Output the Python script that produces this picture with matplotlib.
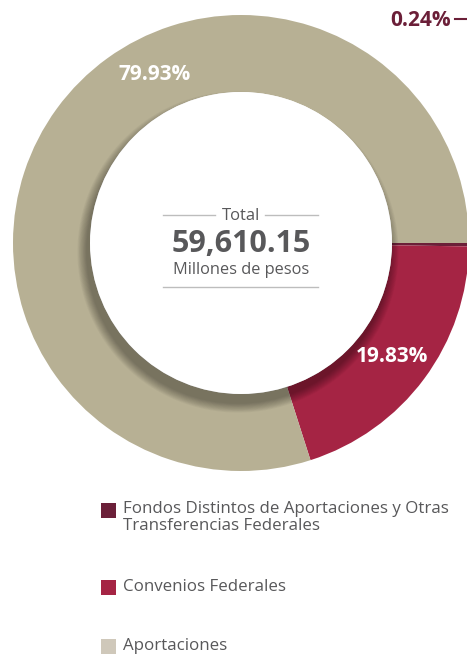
import matplotlib.pyplot as plt
from matplotlib.patches import Circle, Rectangle

plt.rcParams['font.family'] = ['Open Sans', 'DejaVu Sans']

# datos
categorias = ['Fondos Distintos de Aportaciones y Otras\nTransferencias Federales',
              'Convenios Federales',
              'Aportaciones']
porcentajes = [0.24, 19.83, 79.93]
etiquetas = ['0.24%', '19.83%', '79.93%']
total = '59,610.15'
colores = ['#6B1F38', '#A52444', '#B7B094']
colores_leyenda = ['#6B2039', '#A52444', '#CFC8BA']

W, H = 467, 654
fig = plt.figure(figsize=(W / 100, H / 100), dpi=100)
ax = fig.add_axes([0, 0, 1, 1])

cx, cy = 241, H - 243
r_out, r_in = 228, 151

wedges, _ = ax.pie(porcentajes, colors=colores, startangle=0, counterclock=False,
                   radius=r_out, center=(cx, cy), frame=True,
                   wedgeprops=dict(width=r_out - r_in, linewidth=0))

# sombra del circulo interior
for k in range(12, 0, -1):
    ax.add_patch(Circle((cx - 3, cy - 9), r_in + k * 0.8, color='black',
                        alpha=0.03, lw=0, zorder=2))
ax.add_patch(Circle((cx, cy), r_in, color='white', lw=0, zorder=3))

# etiquetas de porcentaje
ax.text(155, H - 75, etiquetas[2], color='white', fontsize=15, fontweight='bold',
        ha='center', va='center', zorder=4)
ax.text(392, H - 357, etiquetas[1], color='white', fontsize=15, fontweight='bold',
        ha='center', va='center', zorder=4)
ax.text(451, H - 20, etiquetas[0], color='#6B1F38', fontsize=15, fontweight='bold',
        ha='right', va='center', zorder=4)
ax.plot([455, 467], [H - 19, H - 19], color='#6B1F38', lw=1.5, zorder=4)

# texto central
gris = '#58585A'
ax.text(cx, H - 216, 'Total', color=gris, fontsize=12, ha='center', va='center', zorder=4)
ax.plot([163, 215], [H - 215, H - 215], color='#BDBDBD', lw=1, zorder=4)
ax.plot([265, 318], [H - 215, H - 215], color='#BDBDBD', lw=1, zorder=4)
ax.text(cx, H - 244, total, color=gris, fontsize=22, fontweight='bold',
        ha='center', va='center', zorder=4)
ax.text(cx, H - 270, 'Millones de pesos', color=gris, fontsize=11.8,
        ha='center', va='center', zorder=4)
ax.plot([163, 318], [H - 287, H - 287], color='#BDBDBD', lw=1, zorder=4)

# leyenda
ys = [510, 587, 646]
for cat, col, y in zip(categorias, colores_leyenda, ys):
    ax.add_patch(Rectangle((101, H - y - 8), 15, 15, color=col, lw=0))
    if '\n' in cat:
        ax.text(123, H - y + 9, cat, color=gris, fontsize=12.2, ha='left', va='top',
                linespacing=1.1)
    else:
        ax.text(123, H - y, cat, color=gris, fontsize=12.2, ha='left', va='center')

ax.set_xlim(0, W)
ax.set_ylim(0, H)
ax.axis('off')

fig.savefig('out.png', dpi=100)
